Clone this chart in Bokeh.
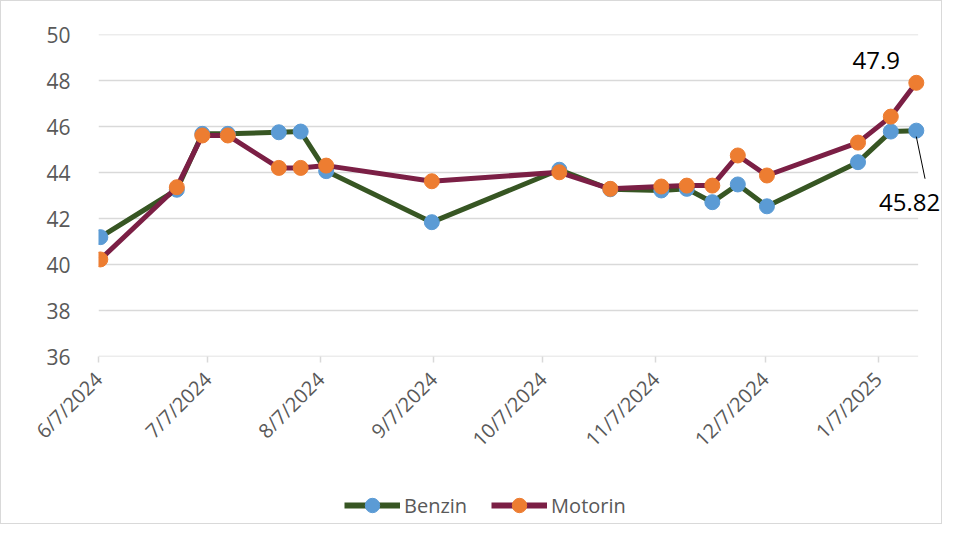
import pandas as pd
import math
from bokeh.plotting import figure
from bokeh.layouts import column
from bokeh.models import (ColumnDataSource, FixedTicker, CustomJSTickFormatter, Legend,
                          LegendItem, Label, Arrow, Range1d)
from bokeh.transform import dodge
from bokeh.embed import file_html
from bokeh.resources import INLINE

# ---- data ----
dates = ["2024-06-07", "2024-06-28", "2024-07-05", "2024-07-12", "2024-07-26", "2024-08-01",
         "2024-08-08", "2024-09-06", "2024-10-11", "2024-10-25", "2024-11-08", "2024-11-15",
         "2024-11-22", "2024-11-29", "2024-12-07", "2025-01-01", "2025-01-10", "2025-01-17"]
benzin = [41.19, 43.25, 45.68, 45.68, 45.75, 45.78, 44.06, 41.84, 44.12, 43.27, 43.22, 43.29,
          42.71, 43.48, 42.53, 44.45, 45.78, 45.82]
motorin = [40.22, 43.36, 45.61, 45.61, 44.20, 44.20, 44.30, 43.62, 44.01, 43.29, 43.39, 43.43,
           43.43, 44.74, 43.87, 45.30, 46.43, 47.90]
tick_dates = ["2024-06-07", "2024-07-07", "2024-08-07", "2024-09-07", "2024-10-07",
              "2024-11-07", "2024-12-07", "2025-01-07"]
y_ticks = [36, 38, 40, 42, 44, 46, 48, 50]
axis_start, axis_end = "2024-06-07", "2025-01-18"
view_end = "2025-01-24 10:00"   # room on the right for the data label
series_names = ["Benzin", "Motorin"]
last_labels = ["45.82", "47.9"]

HALF_DAY = 12 * 3600 * 1000
ms = lambda d: pd.Timestamp(d).timestamp() * 1000

src = ColumnDataSource(dict(date=[ms(d) for d in dates], benzin=benzin, motorin=motorin))
grid_src = ColumnDataSource(dict(x0=[ms(axis_start)] * len(y_ticks),
                                 x1=[ms(axis_end)] * len(y_ticks), y=y_ticks))

FONT = "Open Sans"
GRAY = "#595959"
GRID = "#d9d9d9"
C_B_LINE, C_B_MARK = "#375623", "#5b9bd5"
C_M_LINE, C_M_MARK = "#7b1f45", "#ed7d31"

W, H1, H2 = 940, 476, 46

p = figure(width=W, height=H1, output_backend="svg", toolbar_location=None,
           x_axis_type="datetime",
           x_range=Range1d(ms(axis_start), ms(view_end)),
           y_range=Range1d(y_ticks[0], y_ticks[-1]),
           min_border_left=97, min_border_top=33, min_border_right=0, min_border_bottom=121)
p.outline_line_color = None
p.background_fill_color = "white"
p.border_fill_color = "white"

# axes
p.xaxis.ticker = FixedTicker(ticks=[ms(d) for d in tick_dates], minor_ticks=[])
p.xaxis.formatter = CustomJSTickFormatter(code="""
const d = new Date(tick);
return (d.getUTCMonth()+1) + '/' + d.getUTCDate() + '/' + d.getUTCFullYear();
""")
p.xaxis.major_label_orientation = math.pi / 4
p.xaxis.axis_line_color = None
p.xaxis.major_tick_line_color = GRID
p.xaxis.major_tick_line_width = 1.5
p.xaxis.major_tick_out = 6
p.xaxis.major_tick_in = 0
p.xaxis.minor_tick_line_color = None
p.xaxis.major_label_text_font = FONT
p.xaxis.major_label_text_font_size = "20px"
p.xaxis.major_label_text_color = GRAY
p.xaxis.major_label_standoff = 13

p.yaxis.ticker = FixedTicker(ticks=y_ticks, minor_ticks=[])
p.yaxis.axis_line_color = None
p.yaxis.major_tick_line_color = None
p.yaxis.minor_tick_line_color = None
p.yaxis.major_label_text_font = FONT
p.yaxis.major_label_text_font_size = "21px"
p.yaxis.major_label_text_color = GRAY
p.yaxis.major_label_standoff = 22

p.xgrid.grid_line_color = None
p.ygrid.grid_line_color = None

# horizontal gridlines (and baseline) only across the dated span
p.segment(x0="x0", y0="y", x1="x1", y1="y", source=grid_src, line_color=GRID, line_width=1.5)

xd = dodge("date", HALF_DAY, range=p.x_range)

p.line(x=xd, y="benzin", source=src, line_color=C_B_LINE, line_width=5, line_join="round")
p.scatter(x=xd, y="benzin", source=src, size=15, fill_color=C_B_MARK, line_color=C_B_MARK)
p.line(x=xd, y="motorin", source=src, line_color=C_M_LINE, line_width=5, line_join="round")
p.scatter(x=xd, y="motorin", source=src, size=15, fill_color=C_M_MARK, line_color=C_M_MARK)

xl = ms(dates[-1]) + HALF_DAY
p.add_layout(Label(x=xl, y=motorin[-1], text=last_labels[1], x_offset=-40, y_offset=22,
                   text_align="center", text_baseline="middle", text_font=FONT,
                   text_font_size="24px", text_color="black"))
p.add_layout(Label(x=xl, y=benzin[-1], text=last_labels[0], x_offset=24, y_offset=-72,
                   text_align="right", text_baseline="middle", text_font=FONT,
                   text_font_size="24px", text_color="black"))
p.add_layout(Arrow(end=None, x_start=xl, y_start=benzin[-1] - 0.26,
                   x_end=xl + 2.4 * 2 * HALF_DAY, y_end=benzin[-1] - 2.09,
                   line_color="black", line_width=1))

# ---- legend strip (separate figure so the legend is not clipped) ----
q = figure(width=W, height=H2, output_backend="svg", toolbar_location=None,
           x_axis_type=None, y_axis_type=None,
           x_range=Range1d(0, 1), y_range=Range1d(0, 1),
           min_border_left=0, min_border_right=0, min_border_top=0, min_border_bottom=0)
q.outline_line_color = None
q.xgrid.grid_line_color = None
q.ygrid.grid_line_color = None
lb = q.line(x="date", y="benzin", source=src, line_color=C_B_LINE, line_width=6)
sb = q.scatter(x="date", y="benzin", source=src, size=15, fill_color=C_B_MARK, line_color=C_B_MARK)
lm = q.line(x="date", y="motorin", source=src, line_color=C_M_LINE, line_width=6)
sm = q.scatter(x="date", y="motorin", source=src, size=15, fill_color=C_M_MARK, line_color=C_M_MARK)

legend = Legend(items=[LegendItem(label=series_names[0], renderers=[lb, sb]),
                       LegendItem(label=series_names[1], renderers=[lm, sm])],
                orientation="horizontal", location=(246, 0),
                glyph_width=56, glyph_height=36, label_standoff=4, spacing=24,
                padding=0, margin=0, border_line_color=None, background_fill_alpha=0,
                label_text_font=FONT, label_text_font_size="20px", label_text_color=GRAY)
q.add_layout(legend)

layout = column(p, q, spacing=0, styles={"border": "1px solid #d9d9d9"})

open("out.html", "w").write(file_html(layout, INLINE))
